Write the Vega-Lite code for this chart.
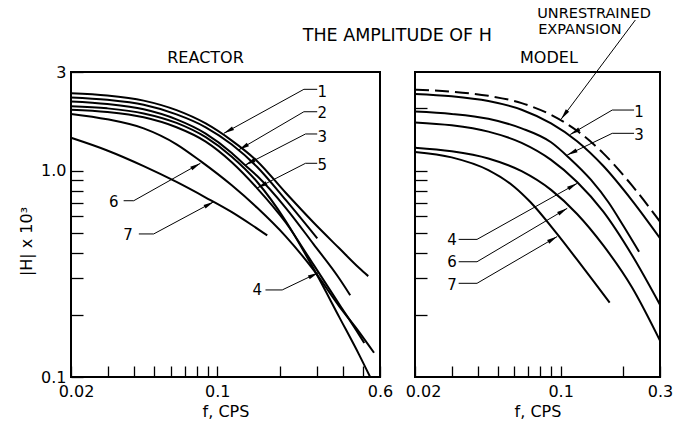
{
  "$schema": "https://vega.github.io/schema/vega-lite/v6.json",
  "background": "white",
  "padding": {"left": 17, "top": 5, "right": 0, "bottom": 0},
  "bounds": "flush",
  "spacing": 35,
  "config": {
    "font": "DejaVu Sans",
    "view": {"stroke": "#000", "strokeWidth": 2},
    "axis": {"domain": false, "grid": false, "tickColor": "#000", "tickWidth": 1.3, "labelColor": "#000", "labelFontSize": 16, "titleColor": "#000", "titleFontSize": 16, "titleFontWeight": "normal", "labelOverlap": false, "labelFlush": false}
  },
  "datasets": {
    "reactor": [
      {"c": "1", "f": 0.02, "h": 2.37}, {"c": "1", "f": 0.0298, "h": 2.31}, {"c": "1", "f": 0.0445, "h": 2.18}, {"c": "1", "f": 0.0639, "h": 1.96}, {"c": "1", "f": 0.0881, "h": 1.69}, {"c": "1", "f": 0.117, "h": 1.40}, {"c": "1", "f": 0.1553, "h": 1.11}, {"c": "1", "f": 0.2125, "h": 0.78}, {"c": "1", "f": 0.2886, "h": 0.56}, {"c": "1", "f": 0.3832, "h": 0.42}, {"c": "1", "f": 0.4772, "h": 0.337}, {"c": "1", "f": 0.5272, "h": 0.308},
      {"c": "2", "f": 0.02, "h": 2.26}, {"c": "2", "f": 0.0298, "h": 2.20}, {"c": "2", "f": 0.0445, "h": 2.08}, {"c": "2", "f": 0.0639, "h": 1.87}, {"c": "2", "f": 0.0881, "h": 1.62}, {"c": "2", "f": 0.117, "h": 1.34}, {"c": "2", "f": 0.1553, "h": 1.04}, {"c": "2", "f": 0.2125, "h": 0.72}, {"c": "2", "f": 0.3008, "h": 0.469},
      {"c": "3", "f": 0.02, "h": 2.16}, {"c": "3", "f": 0.0298, "h": 2.10}, {"c": "3", "f": 0.0445, "h": 1.98}, {"c": "3", "f": 0.0639, "h": 1.77}, {"c": "3", "f": 0.0881, "h": 1.51}, {"c": "3", "f": 0.117, "h": 1.22}, {"c": "3", "f": 0.1361, "h": 1.06}, {"c": "3", "f": 0.1553, "h": 0.94}, {"c": "3", "f": 0.2125, "h": 0.66}, {"c": "3", "f": 0.2886, "h": 0.44}, {"c": "3", "f": 0.3832, "h": 0.30}, {"c": "3", "f": 0.4322, "h": 0.249},
      {"c": "4", "f": 0.02, "h": 2.05}, {"c": "4", "f": 0.0298, "h": 2.00}, {"c": "4", "f": 0.0445, "h": 1.89}, {"c": "4", "f": 0.0639, "h": 1.70}, {"c": "4", "f": 0.0881, "h": 1.45}, {"c": "4", "f": 0.117, "h": 1.17}, {"c": "4", "f": 0.1553, "h": 0.88}, {"c": "4", "f": 0.2125, "h": 0.57}, {"c": "4", "f": 0.2886, "h": 0.335}, {"c": "4", "f": 0.3832, "h": 0.195}, {"c": "4", "f": 0.4772, "h": 0.128}, {"c": "4", "f": 0.5384, "h": 0.1},
      {"c": "5", "f": 0.02, "h": 1.97}, {"c": "5", "f": 0.0298, "h": 1.92}, {"c": "5", "f": 0.0445, "h": 1.81}, {"c": "5", "f": 0.0639, "h": 1.62}, {"c": "5", "f": 0.0881, "h": 1.38}, {"c": "5", "f": 0.117, "h": 1.10}, {"c": "5", "f": 0.1553, "h": 0.82}, {"c": "5", "f": 0.2125, "h": 0.56}, {"c": "5", "f": 0.2886, "h": 0.35}, {"c": "5", "f": 0.3832, "h": 0.225}, {"c": "5", "f": 0.4772, "h": 0.16}, {"c": "5", "f": 0.5046, "h": 0.146},
      {"c": "6", "f": 0.02, "h": 1.88}, {"c": "6", "f": 0.0298, "h": 1.77}, {"c": "6", "f": 0.0445, "h": 1.60}, {"c": "6", "f": 0.0639, "h": 1.34}, {"c": "6", "f": 0.0833, "h": 1.11}, {"c": "6", "f": 0.117, "h": 0.85}, {"c": "6", "f": 0.1553, "h": 0.66}, {"c": "6", "f": 0.2125, "h": 0.48}, {"c": "6", "f": 0.2886, "h": 0.33}, {"c": "6", "f": 0.3832, "h": 0.22}, {"c": "6", "f": 0.4772, "h": 0.165}, {"c": "6", "f": 0.5618, "h": 0.131},
      {"c": "7", "f": 0.02, "h": 1.44}, {"c": "7", "f": 0.0298, "h": 1.25}, {"c": "7", "f": 0.0445, "h": 1.05}, {"c": "7", "f": 0.0639, "h": 0.88}, {"c": "7", "f": 0.0881, "h": 0.74}, {"c": "7", "f": 0.117, "h": 0.63}, {"c": "7", "f": 0.1458, "h": 0.546}, {"c": "7", "f": 0.1734, "h": 0.485}
    ],
    "model": [
      {"c": "U", "f": 0.02, "h": 2.46}, {"c": "U", "f": 0.03, "h": 2.41}, {"c": "U", "f": 0.045, "h": 2.30}, {"c": "U", "f": 0.065, "h": 2.12}, {"c": "U", "f": 0.09, "h": 1.86}, {"c": "U", "f": 0.12, "h": 1.557}, {"c": "U", "f": 0.16, "h": 1.214}, {"c": "U", "f": 0.22, "h": 0.847}, {"c": "U", "f": 0.3, "h": 0.565},
      {"c": "1", "f": 0.02, "h": 2.35}, {"c": "1", "f": 0.03, "h": 2.29}, {"c": "1", "f": 0.045, "h": 2.17}, {"c": "1", "f": 0.065, "h": 1.97}, {"c": "1", "f": 0.09, "h": 1.69}, {"c": "1", "f": 0.12, "h": 1.386}, {"c": "1", "f": 0.16, "h": 1.054}, {"c": "1", "f": 0.22, "h": 0.717}, {"c": "1", "f": 0.3, "h": 0.47},
      {"c": "3", "f": 0.02, "h": 1.93}, {"c": "3", "f": 0.03, "h": 1.88}, {"c": "3", "f": 0.045, "h": 1.78}, {"c": "3", "f": 0.065, "h": 1.60}, {"c": "3", "f": 0.09, "h": 1.37}, {"c": "3", "f": 0.11, "h": 1.15}, {"c": "3", "f": 0.14, "h": 0.90}, {"c": "3", "f": 0.17, "h": 0.70}, {"c": "3", "f": 0.2, "h": 0.54}, {"c": "3", "f": 0.238, "h": 0.404},
      {"c": "4", "f": 0.02, "h": 1.71}, {"c": "4", "f": 0.03, "h": 1.656}, {"c": "4", "f": 0.045, "h": 1.543}, {"c": "4", "f": 0.065, "h": 1.361}, {"c": "4", "f": 0.09, "h": 1.126}, {"c": "4", "f": 0.12, "h": 0.88}, {"c": "4", "f": 0.16, "h": 0.634}, {"c": "4", "f": 0.22, "h": 0.39}, {"c": "4", "f": 0.3, "h": 0.224},
      {"c": "6", "f": 0.02, "h": 1.29}, {"c": "6", "f": 0.03, "h": 1.24}, {"c": "6", "f": 0.045, "h": 1.144}, {"c": "6", "f": 0.065, "h": 0.993}, {"c": "6", "f": 0.09, "h": 0.806}, {"c": "6", "f": 0.12, "h": 0.616}, {"c": "6", "f": 0.16, "h": 0.435}, {"c": "6", "f": 0.22, "h": 0.272}, {"c": "6", "f": 0.3, "h": 0.150},
      {"c": "7", "f": 0.02, "h": 1.23}, {"c": "7", "f": 0.03, "h": 1.158}, {"c": "7", "f": 0.045, "h": 1.004}, {"c": "7", "f": 0.06, "h": 0.833}, {"c": "7", "f": 0.0714, "h": 0.706}, {"c": "7", "f": 0.0964, "h": 0.492}, {"c": "7", "f": 0.12, "h": 0.37}, {"c": "7", "f": 0.145, "h": 0.288}, {"c": "7", "f": 0.172, "h": 0.229}
    ],
    "rflats": [
      {"x": 0.2596, "y": 2.473, "x2": 0.3006, "y2": 2.473},
      {"x": 0.2596, "y": 1.926, "x2": 0.3006, "y2": 1.926},
      {"x": 0.2643, "y": 1.503, "x2": 0.3006, "y2": 1.503},
      {"x": 0.2643, "y": 1.084, "x2": 0.3006, "y2": 1.084},
      {"x": 0.0357, "y": 0.714, "x2": 0.0399, "y2": 0.714},
      {"x": 0.0422, "y": 0.493, "x2": 0.0497, "y2": 0.493},
      {"x": 0.1701, "y": 0.264, "x2": 0.2045, "y2": 0.264}
    ],
    "rarrows": [
      {"x": 0.2596, "y": 2.473, "x2": 0.1076, "y2": 1.514},
      {"x": 0.2596, "y": 1.926, "x2": 0.1269, "y2": 1.26},
      {"x": 0.2643, "y": 1.503, "x2": 0.1361, "y2": 1.063},
      {"x": 0.2643, "y": 1.084, "x2": 0.1552, "y2": 0.823},
      {"x": 0.0399, "y": 0.714, "x2": 0.0831, "y2": 1.084},
      {"x": 0.0497, "y": 0.493, "x2": 0.0963, "y2": 0.706},
      {"x": 0.2045, "y": 0.264, "x2": 0.304, "y2": 0.32}
    ],
    "rlabels": [
      {"x": 0.3178, "y": 2.407, "t": "1"},
      {"x": 0.3178, "y": 1.892, "t": "2"},
      {"x": 0.3178, "y": 1.458, "t": "3"},
      {"x": 0.3178, "y": 1.063, "t": "5"},
      {"x": 0.032, "y": 0.706, "t": "6"},
      {"x": 0.0375, "y": 0.487, "t": "7"},
      {"x": 0.1552, "y": 0.264, "t": "4"}
    ],
    "mflats": [
      {"x": 0.177, "y": 1.963, "x2": 0.2252, "y2": 1.963},
      {"x": 0.177, "y": 1.514, "x2": 0.2252, "y2": 1.514},
      {"x": 0.0324, "y": 0.464, "x2": 0.0397, "y2": 0.464},
      {"x": 0.0324, "y": 0.3616, "x2": 0.0397, "y2": 0.3616},
      {"x": 0.0324, "y": 0.2843, "x2": 0.0397, "y2": 0.2843}
    ],
    "marrows": [
      {"x": 0.2284, "y": 5.356, "x2": 0.1007, "y2": 1.776},
      {"x": 0.177, "y": 1.963, "x2": 0.1112, "y2": 1.494},
      {"x": 0.177, "y": 1.514, "x2": 0.1076, "y2": 1.189},
      {"x": 0.0397, "y": 0.464, "x2": 0.1202, "y2": 0.867},
      {"x": 0.0397, "y": 0.3616, "x2": 0.1076, "y2": 0.656},
      {"x": 0.0397, "y": 0.2843, "x2": 0.0963, "y2": 0.479}
    ],
    "mlabels": [
      {"x": 0.238, "y": 1.926, "t": "1"},
      {"x": 0.238, "y": 1.486, "t": "3"},
      {"x": 0.0301, "y": 0.4606, "t": "4"},
      {"x": 0.0301, "y": 0.3616, "t": "6"},
      {"x": 0.0301, "y": 0.279, "t": "7"}
    ]
  },
  "hconcat": [
    {
      "width": 309,
      "height": 305,
      "layer": [
        {
          "data": {"name": "reactor"},
          "mark": {"type": "line", "interpolate": "monotone", "strokeWidth": 2, "color": "#000"},
          "encoding": {
            "x": {"field": "f", "type": "quantitative", "scale": {"type": "log", "domain": [0.02, 0.6], "nice": false},
              "axis": {"values": [0.02, 0.03, 0.04, 0.05, 0.06, 0.07, 0.08, 0.09, 0.1, 0.2, 0.3, 0.4, 0.5, 0.6],
                "labelExpr": "datum.value == 0.02 ? '0.02' : datum.value == 0.1 ? '0.1' : datum.value == 0.6 ? '0.6' : ''",
                "labelOffset": {"condition": {"test": "datum.value == 0.02", "value": 5}, "value": 0},
                "tickSize": -11, "labelPadding": 17, "title": "f, CPS", "titlePadding": 4}},
            "y": {"field": "h", "type": "quantitative", "scale": {"type": "log", "domain": [0.1, 3], "nice": false},
              "axis": {"values": [0.1, 0.2, 0.3, 0.4, 0.5, 0.6, 0.7, 0.8, 0.9, 1, 3],
                "labelExpr": "datum.value == 0.1 ? '0.1' : datum.value == 1 ? '1.0' : datum.value == 3 ? '3' : ''",
                "tickSize": -12, "labelPadding": 17, "title": "|H| x 10³", "titlePadding": 6, "titleY": 169}},
            "detail": {"field": "c"}
          }
        },
        {
          "data": {"name": "rflats"},
          "mark": {"type": "rule", "strokeWidth": 1, "color": "#000"},
          "encoding": {
            "x": {"field": "x", "type": "quantitative", "scale": {"type": "log", "domain": [0.02, 0.6], "nice": false}},
            "y": {"field": "y", "type": "quantitative", "scale": {"type": "log", "domain": [0.1, 3], "nice": false}},
            "x2": {"field": "x2"}, "y2": {"field": "y2"}
          }
        },
        {
          "data": {"name": "rarrows"},
          "mark": {"type": "rule", "strokeWidth": 1, "color": "#000"},
          "encoding": {
            "x": {"field": "x", "type": "quantitative", "scale": {"type": "log", "domain": [0.02, 0.6], "nice": false}},
            "y": {"field": "y", "type": "quantitative", "scale": {"type": "log", "domain": [0.1, 3], "nice": false}},
            "x2": {"field": "x2"}, "y2": {"field": "y2"}
          }
        },
        {
          "data": {"name": "rarrows"},
          "transform": [{"calculate": "atan2(log(datum.x2 / datum.x), log(datum.y2 / datum.y)) * 180 / PI", "as": "angle"}],
          "mark": {"type": "point", "shape": "M0,0L0.4,2L-0.4,2Z", "filled": true, "size": 110, "color": "#000", "opacity": 1},
          "encoding": {
            "x": {"field": "x2", "type": "quantitative", "scale": {"type": "log", "domain": [0.02, 0.6], "nice": false}},
            "y": {"field": "y2", "type": "quantitative", "scale": {"type": "log", "domain": [0.1, 3], "nice": false}},
            "angle": {"field": "angle", "type": "quantitative", "scale": null}
          }
        },
        {
          "data": {"name": "rlabels"},
          "mark": {"type": "text", "fontSize": 15, "align": "center", "baseline": "middle", "color": "#000"},
          "encoding": {
            "x": {"field": "x", "type": "quantitative", "scale": {"type": "log", "domain": [0.02, 0.6], "nice": false}},
            "y": {"field": "y", "type": "quantitative", "scale": {"type": "log", "domain": [0.1, 3], "nice": false}},
            "text": {"field": "t"}
          }
        },
        {
          "data": {"values": [{"x": 0.0879, "y": 3.526, "t": "REACTOR"}]},
          "mark": {"type": "text", "fontSize": 16, "align": "center", "baseline": "middle", "color": "#000"},
          "encoding": {
            "x": {"field": "x", "type": "quantitative", "scale": {"type": "log", "domain": [0.02, 0.6], "nice": false}},
            "y": {"field": "y", "type": "quantitative", "scale": {"type": "log", "domain": [0.1, 3], "nice": false}},
            "text": {"field": "t"}
          }
        },
        {
          "data": {"values": [{"x": 0.7258, "y": 4.506, "t": "THE AMPLITUDE OF H"}]},
          "mark": {"type": "text", "fontSize": 17.5, "align": "center", "baseline": "middle", "color": "#000"},
          "encoding": {
            "x": {"field": "x", "type": "quantitative", "scale": {"type": "log", "domain": [0.02, 0.6], "nice": false}},
            "y": {"field": "y", "type": "quantitative", "scale": {"type": "log", "domain": [0.1, 3], "nice": false}},
            "text": {"field": "t"}
          }
        }
      ]
    },
    {
      "width": 245,
      "height": 305,
      "layer": [
        {
          "data": {"name": "model"},
          "transform": [{"filter": "datum.c != 'U'"}],
          "mark": {"type": "line", "interpolate": "monotone", "strokeWidth": 2, "color": "#000"},
          "encoding": {
            "x": {"field": "f", "type": "quantitative", "scale": {"type": "log", "domain": [0.02, 0.3], "nice": false},
              "axis": {"values": [0.02, 0.03, 0.04, 0.05, 0.06, 0.07, 0.08, 0.09, 0.1, 0.2, 0.3],
                "labelExpr": "datum.value == 0.02 ? '0.02' : datum.value == 0.1 ? '0.1' : datum.value == 0.3 ? '0.3' : ''",
                "labelOffset": {"condition": {"test": "datum.value == 0.02", "value": 8}, "value": 0},
                "tickSize": -11, "labelPadding": 17, "title": "f, CPS", "titlePadding": 4}},
            "y": {"field": "h", "type": "quantitative", "scale": {"type": "log", "domain": [0.1, 3], "nice": false},
              "axis": {"values": [0.2, 0.3, 0.4, 0.5, 0.6, 0.7, 0.8, 0.9, 1, 2],
                "labels": false, "tickSize": -12, "title": null}},
            "detail": {"field": "c"}
          }
        },
        {
          "data": {"name": "model"},
          "transform": [{"filter": "datum.c == 'U'"}],
          "mark": {"type": "line", "interpolate": "monotone", "strokeWidth": 2, "color": "#000", "strokeDash": [14, 6]},
          "encoding": {
            "x": {"field": "f", "type": "quantitative", "scale": {"type": "log", "domain": [0.02, 0.3], "nice": false}},
            "y": {"field": "h", "type": "quantitative", "scale": {"type": "log", "domain": [0.1, 3], "nice": false}}
          }
        },
        {
          "data": {"name": "mflats"},
          "mark": {"type": "rule", "strokeWidth": 1, "color": "#000"},
          "encoding": {
            "x": {"field": "x", "type": "quantitative", "scale": {"type": "log", "domain": [0.02, 0.3], "nice": false}},
            "y": {"field": "y", "type": "quantitative", "scale": {"type": "log", "domain": [0.1, 3], "nice": false}},
            "x2": {"field": "x2"}, "y2": {"field": "y2"}
          }
        },
        {
          "data": {"name": "marrows"},
          "mark": {"type": "rule", "strokeWidth": 1, "color": "#000"},
          "encoding": {
            "x": {"field": "x", "type": "quantitative", "scale": {"type": "log", "domain": [0.02, 0.3], "nice": false}},
            "y": {"field": "y", "type": "quantitative", "scale": {"type": "log", "domain": [0.1, 3], "nice": false}},
            "x2": {"field": "x2"}, "y2": {"field": "y2"}
          }
        },
        {
          "data": {"name": "marrows"},
          "transform": [{"calculate": "atan2(log(datum.x2 / datum.x), log(datum.y2 / datum.y)) * 180 / PI", "as": "angle"}],
          "mark": {"type": "point", "shape": "M0,0L0.4,2L-0.4,2Z", "filled": true, "size": 110, "color": "#000", "opacity": 1},
          "encoding": {
            "x": {"field": "x2", "type": "quantitative", "scale": {"type": "log", "domain": [0.02, 0.3], "nice": false}},
            "y": {"field": "y2", "type": "quantitative", "scale": {"type": "log", "domain": [0.1, 3], "nice": false}},
            "angle": {"field": "angle", "type": "quantitative", "scale": null}
          }
        },
        {
          "data": {"name": "mlabels"},
          "mark": {"type": "text", "fontSize": 15, "align": "center", "baseline": "middle", "color": "#000"},
          "encoding": {
            "x": {"field": "x", "type": "quantitative", "scale": {"type": "log", "domain": [0.02, 0.3], "nice": false}},
            "y": {"field": "y", "type": "quantitative", "scale": {"type": "log", "domain": [0.1, 3], "nice": false}},
            "text": {"field": "t"}
          }
        },
        {
          "data": {"values": [{"x": 0.0879, "y": 3.526, "t": "MODEL"}]},
          "mark": {"type": "text", "fontSize": 16, "align": "center", "baseline": "middle", "color": "#000"},
          "encoding": {
            "x": {"field": "x", "type": "quantitative", "scale": {"type": "log", "domain": [0.02, 0.3], "nice": false}},
            "y": {"field": "y", "type": "quantitative", "scale": {"type": "log", "domain": [0.1, 3], "nice": false}},
            "text": {"field": "t"}
          }
        },
        {
          "data": {"values": [{"x": 0.0772, "y": 5.70, "t": "UNRESTRAINED"}, {"x": 0.078, "y": 4.78, "t": "EXPANSION"}]},
          "mark": {"type": "text", "fontSize": 14.5, "align": "left", "baseline": "middle", "color": "#000"},
          "encoding": {
            "x": {"field": "x", "type": "quantitative", "scale": {"type": "log", "domain": [0.02, 0.3], "nice": false}},
            "y": {"field": "y", "type": "quantitative", "scale": {"type": "log", "domain": [0.1, 3], "nice": false}},
            "text": {"field": "t"}
          }
        }
      ]
    }
  ]
}
